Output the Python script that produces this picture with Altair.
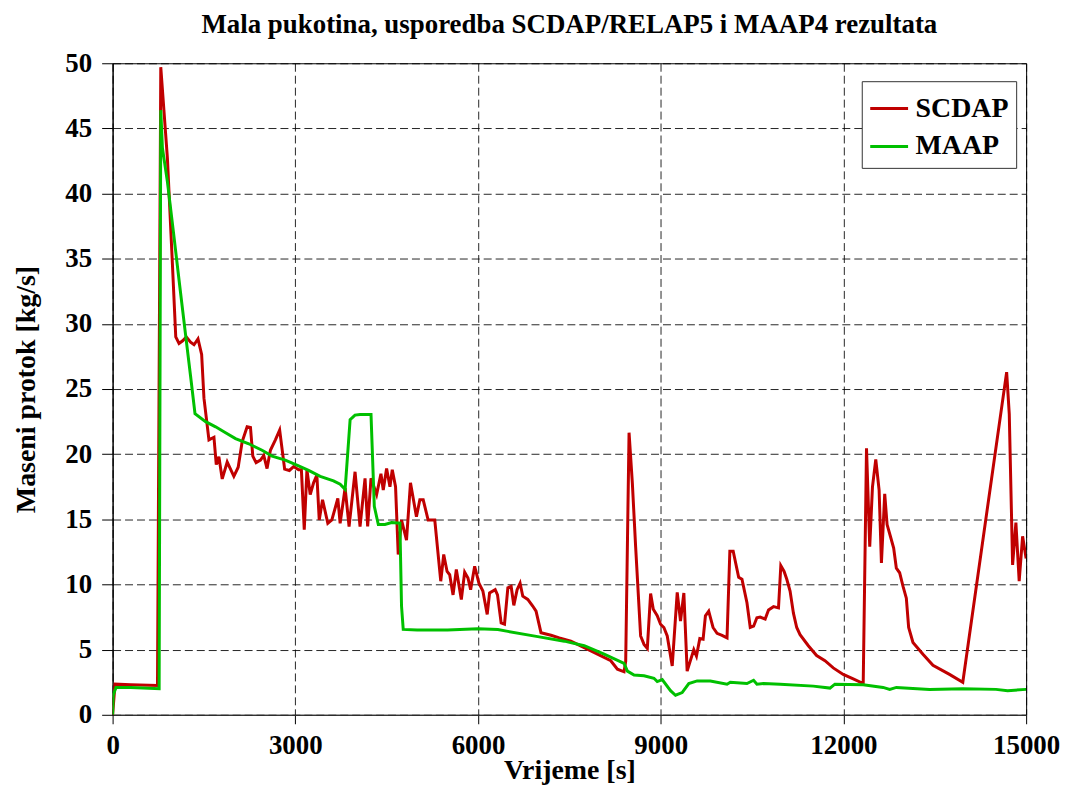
import altair as alt
import pandas as pd

# ---- data ----
scdap_t = [0, 40, 300, 737, 791, 900, 972, 1037, 1091, 1150, 1211, 1280, 1337, 1402, 1462,
           1500, 1582, 1664, 1702, 1745, 1800, 1882, 1991, 2062, 2127, 2209, 2264, 2302, 2356,
           2428, 2482, 2536, 2591, 2673, 2743, 2825, 2902, 2972, 3054, 3100, 3147, 3191, 3245,
           3300, 3354, 3393, 3447, 3534, 3600, 3698, 3736, 3818, 3883, 3981, 4063, 4145, 4188,
           4243, 4335, 4406, 4444, 4499, 4554, 4592, 4646, 4690, 4744, 4826, 4891, 4989, 5045,
           5100, 5181, 5290, 5388, 5437, 5492, 5535, 5590, 5644, 5726, 5781, 5835, 5879, 5945,
           6015, 6080, 6151, 6190, 6282, 6320, 6380, 6435, 6490, 6544, 6588, 6642, 6691, 6735,
           6817, 6898, 6953, 7034, 7198, 7335, 7525, 7744, 7962, 8180, 8289, 8398, 8425, 8480,
           8534, 8588, 8670, 8726, 8780, 8834, 8878, 8943, 8997, 9052, 9107, 9189, 9271, 9325,
           9380, 9434, 9543, 9587, 9642, 9696, 9734, 9788, 9859, 9925, 10007, 10089, 10135,
           10190, 10280, 10334, 10416, 10470, 10525, 10579, 10633, 10715, 10770, 10852, 10934,
           10972, 11026, 11070, 11124, 11179, 11233, 11288, 11424, 11560, 11697, 11833, 11997,
           12161, 12325, 12379, 12432, 12477, 12531, 12586, 12624, 12678, 12717, 12771, 12825,
           12869, 12923, 12979, 13033, 13071, 13142, 13306, 13470, 13742, 13960, 14680, 14723,
           14778, 14832, 14886, 14942, 15000]
scdap_v = [0.0, 2.35, 2.3, 2.25, 49.7, 42.7, 35.6, 29.0, 28.5, 28.7, 29.0, 28.6, 28.4, 28.85, 27.65,
           24.3, 21.1, 21.3, 19.2, 19.8, 18.1, 19.4, 18.3, 19.0, 20.95, 22.1, 22.05, 19.85, 19.35,
           19.55, 19.9, 18.9, 20.3, 21.1, 21.85, 18.85, 18.75, 19.05, 18.8, 18.8, 14.2, 18.8, 16.9,
           17.8, 18.4, 14.95, 16.5, 14.7, 14.95, 16.6, 14.7, 17.4, 14.45, 18.65, 14.45, 18.15, 14.45,
           18.15, 16.9, 18.5, 17.25, 18.9, 17.5, 18.8, 17.5, 12.3, 14.95, 13.4, 17.8, 15.2, 16.5,
           16.5, 14.95, 14.95, 10.25, 12.3, 11.0, 10.75, 9.2, 11.15, 8.85, 10.95, 10.5, 9.6, 11.4,
           10.1, 9.5, 7.7, 9.35, 9.6, 9.2, 7.05, 6.95, 9.75, 9.85, 8.4, 9.6, 10.1, 9.1,
           8.85, 8.35, 7.95, 6.3, 6.1, 5.9, 5.65, 5.15, 4.65, 4.15, 3.5, 3.3, 4.1, 21.65,
           17.8, 12.9, 6.05, 5.4, 5.1, 9.3, 8.1, 7.6, 6.95, 6.7, 6.05, 3.75, 9.4, 7.2,
           9.35, 3.35, 5.0, 4.5, 5.85, 5.8, 7.6, 7.95, 6.7, 6.25, 6.1, 5.9, 12.55,
           12.55, 10.55, 10.4, 8.6, 6.7, 6.8, 7.45, 7.5, 7.35, 8.05, 8.3, 8.2,
           11.45, 11.0, 10.4, 9.5, 7.8, 6.7, 6.15, 5.3, 4.55, 4.15, 3.6, 3.1,
           2.75, 2.4, 20.45, 12.9, 17.5, 19.6, 17.25, 11.65, 16.95, 14.6, 13.7, 12.8,
           11.25, 10.9, 9.85, 8.95, 6.7, 5.55, 4.65, 3.8, 3.1, 2.5, 26.3, 23.1,
           11.5, 14.75, 10.25, 13.7, 12.0]

maap_t = [0, 10, 55, 300, 500, 764, 791, 818, 900, 1000, 1100, 1200, 1280, 1353, 1527, 1691,
          1855, 2018, 2236, 2454, 2618, 2836, 3054, 3218, 3409, 3627, 3736, 3818, 3900, 3980,
          4063, 4243, 4297, 4363, 4472, 4581, 4717, 4744, 4772, 5000, 5500, 6000, 6326, 6490,
          6981, 7417, 7744, 8071, 8398, 8453, 8562, 8726, 8889, 8943, 9025, 9161, 9243, 9352,
          9461, 9598, 9815, 10089, 10143, 10416, 10525, 10580, 10688, 10961, 11506, 11779,
          11860, 12325, 12651, 12760, 12870, 13414, 13960, 14505, 14696, 15000]
maap_v = [0.0, 1.5, 2.1, 2.1, 2.05, 2.0, 46.4, 43.5, 40.9, 37.0, 33.0, 29.1, 26.0, 23.1, 22.5, 22.1,
          21.65, 21.2, 20.8, 20.3, 19.85, 19.55, 19.1, 18.75, 18.3, 17.95, 17.7, 17.3, 22.65, 23.0,
          23.05, 23.05, 16.0, 14.6, 14.6, 14.75, 14.7, 8.35, 6.55, 6.5, 6.5, 6.6, 6.55, 6.4,
          6.0, 5.65, 5.3, 4.65, 3.95, 3.35, 3.05, 3.0, 2.8, 2.55, 2.7, 1.85, 1.5, 1.7,
          2.4, 2.6, 2.6, 2.35, 2.5, 2.4, 2.65, 2.35, 2.4, 2.35, 2.2, 2.05,
          2.35, 2.3, 2.1, 1.95, 2.1, 1.95, 2.0, 1.95, 1.85, 1.95]

series_names = ["SCDAP", "MAAP"]
series_colors = ["#C00000", "#00C000"]
x_ticks = [0, 3000, 6000, 9000, 12000, 15000]
y_ticks = [0, 5, 10, 15, 20, 25, 30, 35, 40, 45, 50]

df_s = pd.DataFrame({"t": scdap_t, "v": scdap_v, "s": "SCDAP", "o": list(range(len(scdap_t)))})
df_m = pd.DataFrame({"t": maap_t, "v": maap_v, "s": "MAAP", "o": list(range(len(maap_t)))})

FONT = "Liberation Serif"

x_enc = alt.X("t:Q",
              scale=alt.Scale(domain=[0, 15000], nice=False, zero=False),
              axis=alt.Axis(values=x_ticks, format="d", title="Vrijeme [s]",
                            titleY=64, titleBaseline="alphabetic",
                            tickSize=9, labelPadding=9, labelFlush=False,
                            domainColor="#333333"))
y_enc = alt.Y("v:Q",
              scale=alt.Scale(domain=[0, 50], nice=False),
              axis=alt.Axis(values=y_ticks, title="Maseni protok [kg/s]",
                            titleX=-86, titleY=327, titleAngle=270,
                            titleBaseline="middle", titleAlign="center",
                            tickSize=11, labelPadding=10, labelFlush=False,
                            domainColor="#000000"))
color_enc = alt.Color("s:N",
                      scale=alt.Scale(domain=series_names, range=series_colors),
                      legend=alt.Legend(title=None, orient="none", legendX=752, legendY=18,
                                        fillColor="white", strokeColor="#333333",
                                        padding=7, symbolType="stroke", symbolSize=1444,
                                        symbolStrokeWidth=3, labelFont=FONT,
                                        labelFontSize=28, labelFontWeight="bold",
                                        labelColor="black", rowPadding=3, labelOffset=6))

red = alt.Chart(df_s).mark_line(strokeWidth=3, clip=True).encode(
    x=x_enc, y=y_enc, color=color_enc, order="o:Q")
green = alt.Chart(df_m).mark_line(strokeWidth=3, clip=True).encode(
    x=x_enc, y=y_enc, color=color_enc, order="o:Q")

chart = alt.layer(red, green).properties(
    width=917, height=654,
    background="white",
    autosize=alt.AutoSizeParams(type="none"),
    padding={"left": 105, "top": 54, "right": 34, "bottom": 69},
    title=alt.TitleParams("Mala pukotina, usporedba SCDAP/RELAP5 i MAAP4 rezultata",
                          font=FONT, fontSize=27, fontWeight="bold", color="black",
                          anchor="middle", frame="group", baseline="alphabetic", offset=-11),
).configure_axis(
    labelFont=FONT, labelFontSize=27, labelFontWeight="bold", labelColor="black",
    titleFont=FONT, titleFontSize=28, titleFontWeight="bold", titleColor="black",
    tickColor="black", tickWidth=1, domainWidth=1,
    grid=True, gridColor="#000000", gridWidth=1, gridDash=[8, 4], gridOpacity=0.85,
).configure_view(stroke="black", strokeWidth=1)

chart.save("out.html", embed_options={"renderer": "svg", "actions": False})
